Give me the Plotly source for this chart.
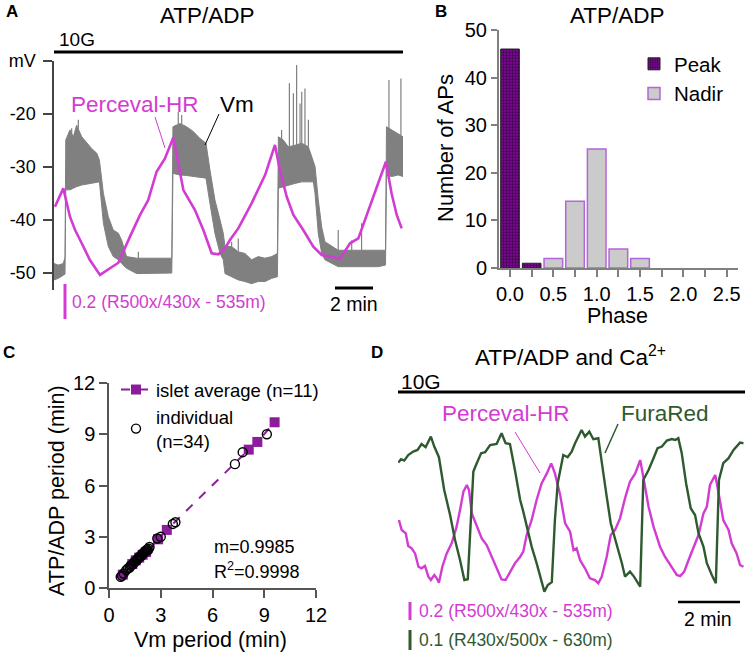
import numpy as np
import plotly.graph_objects as go

W, H = 747, 653
FONT = "Liberation Sans, Arial, sans-serif"
MAG = "#d23cd2"
GREEN = "#2f5a30"
GRAY = "#808080"
PURPLE = "#8c1c9c"

# ---------------- Panel A: Vm (mV) envelope and Perceval-HR ratio ----------------
vm_t = [0.00, 0.23, 0.49, 0.58, 0.62, 0.84, 1.02, 1.19, 1.46, 1.72, 1.98, 2.25, 2.39, 2.60, 2.86,
        3.12, 3.39, 3.56, 3.82, 4.35, 5.05, 5.75, 6.20, 6.26, 6.63, 6.98, 7.33, 7.68, 8.00, 8.21,
        8.47, 8.74, 8.91, 9.00, 9.35, 9.70, 10.05, 10.40, 10.75, 11.11, 11.46, 11.76, 11.81, 12.07,
        12.33, 12.68, 13.04, 13.39, 13.65, 13.74, 13.91, 14.09, 14.26, 14.96, 15.67, 16.37, 17.07,
        17.45, 17.50, 17.77, 18.12, 18.37]
vm_upper = [-48.2, -48.5, -48.2, -47.0, -24.9, -23.0, -24.3, -22.1, -24.3, -25.5, -26.5, -27.4, -28.7,
            -35.0, -39.4, -41.9, -42.5, -43.8, -46.9, -47.2, -47.2, -47.2, -47.2, -22.4, -21.8, -22.4,
            -23.3, -24.6, -25.5, -30.6, -36.2, -40.0, -42.5, -45.0, -45.0, -46.0, -46.3, -47.5, -46.9,
            -47.2, -46.9, -46.3, -24.3, -24.9, -26.2, -25.9, -25.5, -26.2, -29.3, -29.9, -36.2, -41.3,
            -44.1, -45.7, -45.7, -45.7, -45.7, -45.7, -22.4, -23.0, -23.7, -24.3]
vm_lower = [-51.3, -51.0, -50.4, -50.2, -34.3, -34.3, -34.0, -33.7, -33.4, -33.2, -33.0, -32.8, -32.8,
            -40.6, -45.0, -46.9, -47.5, -48.2, -49.1, -50.1, -50.1, -50.1, -50.0, -31.2, -31.5, -31.6,
            -31.8, -32.0, -32.1, -36.9, -42.5, -46.3, -47.5, -50.1, -50.7, -51.3, -51.6, -52.0, -51.6,
            -51.6, -51.0, -50.7, -34.0, -33.7, -33.4, -33.1, -32.8, -32.8, -32.8, -35.0, -42.5, -46.3,
            -47.5, -48.8, -48.8, -48.8, -48.8, -48.5, -31.5, -31.8, -31.5, -31.8]
spike_t = [0.93, 1.28, 4.44, 6.54, 6.72, 9.35, 9.70, 11.98, 12.39, 12.60, 12.77, 12.95, 13.04,
           13.21, 13.39, 14.96, 15.67, 16.19, 17.63, 18.26]
spike_peak = [-22.7, -21.1, -46.0, -19.6, -20.2, -44.1, -43.5, -23.0, -14.2, -16.1, -10.75, -18.0,
              -15.8, -15.2, -21.1, -41.9, -43.8, -40.6, -13.6, -13.3]
percA_t = [0.05, 0.49, 0.84, 1.11, 1.46, 1.89, 2.42, 3.39, 4.00, 4.53, 4.96, 5.40, 5.84, 6.28, 6.81,
           7.42, 7.86, 8.30, 8.65, 9.00, 9.26, 9.70, 10.40, 11.11, 11.63, 11.89, 12.25, 12.60, 13.12,
           13.65, 14.09, 14.61, 15.05, 15.32, 15.58, 16.02, 16.37, 16.72, 17.07, 17.47, 17.77, 18.04,
           18.30]
percA_v = [1.476, 1.581, 1.419, 1.343, 1.267, 1.171, 1.086, 1.156, 1.305, 1.429, 1.514, 1.676, 1.752,
           1.872, 1.571, 1.457, 1.343, 1.210, 1.204, 1.238, 1.286, 1.352, 1.495, 1.657, 1.829, 1.686,
           1.533, 1.429, 1.343, 1.248, 1.200, 1.190, 1.177, 1.219, 1.267, 1.295, 1.400, 1.514, 1.619,
           1.733, 1.552, 1.429, 1.352]
mv_ticks = [-10, -20, -30, -40, -50]
mv_ticktext = ["mV", "-20", "-30", "-40", "-50"]

# ---------------- Panel B: phase histogram ----------------
phase_peak = [0.0, 0.25]
count_peak = [46, 1]
phase_nadir = [0.5, 0.75, 1.0, 1.25, 1.5]
count_nadir = [2, 14, 25, 4, 2]

# ---------------- Panel C: periods ----------------
avg_vm = [0.80, 1.35, 1.55, 1.75, 1.95, 2.15, 2.85, 3.35, 8.10, 8.60, 9.60]
avg_atp = [0.78, 1.40, 1.62, 1.78, 1.95, 2.10, 2.85, 3.40, 8.10, 8.55, 9.70]
ind_vm = [0.68, 0.75, 0.85, 1.00, 1.10, 1.20, 1.30, 1.40, 1.45, 1.50, 1.60, 1.65, 1.70, 1.75, 1.80,
          1.85, 1.90, 1.95, 2.00, 2.05, 2.10, 2.15, 2.20, 2.30, 2.35, 2.80, 3.00, 3.70, 3.85, 7.30,
          7.75, 9.15, 1.25, 2.25]
ind_atp = [0.65, 0.72, 0.85, 1.05, 1.15, 1.20, 1.35, 1.40, 1.50, 1.55, 1.60, 1.70, 1.75, 1.80, 1.85,
           1.90, 1.90, 2.00, 2.05, 2.10, 2.15, 2.20, 2.25, 2.30, 2.40, 2.90, 3.00, 3.75, 3.85, 7.25,
           7.95, 9.00, 1.30, 2.20]
c_ticks = [0, 3, 6, 9, 12]

# ---------------- Panel D: Perceval-HR and FuraRed ----------------
perD_t = [0.03, 0.12, 0.25, 0.33, 0.44, 0.55, 0.66, 0.76, 0.87, 0.98,
          1.06, 1.17, 1.25, 1.32, 1.43, 1.57, 1.73, 1.89, 2.00, 2.11,
          2.22, 2.29, 2.38, 2.54, 2.70, 2.86, 3.02, 3.18, 3.34, 3.47,
          3.61, 3.77, 3.94, 4.04, 4.15, 4.31, 4.47, 4.63, 4.80, 4.94,
          5.06, 5.23, 5.39, 5.55, 5.66, 5.76, 5.87, 6.03, 6.19, 6.35,
          6.46, 6.57, 6.73, 6.86, 7.00, 7.16, 7.32, 7.48, 7.65, 7.81,
          7.91, 8.08, 8.24, 8.45, 8.61, 8.77, 8.99, 9.10, 9.23, 9.37,
          9.53, 9.69, 9.85, 9.96, 10.06, 10.23, 10.33, 10.49, 10.66, 10.76,
          10.92, 11.03, 11.14]
perD_v = [1.704, 1.593, 1.556, 1.415, 1.389, 1.333, 1.185, 1.167, 1.193, 1.074,
          1.037, 1.093, 1.056, 1.007, 1.185, 1.333, 1.444, 1.630, 1.815, 2.019,
          2.093, 2.037, 1.778, 1.630, 1.500, 1.426, 1.296, 1.185, 1.044, 1.037,
          1.130, 1.222, 1.296, 1.352, 1.537, 1.704, 1.926, 2.111, 2.222, 2.333,
          2.222, 1.981, 1.667, 1.574, 1.370, 1.389, 1.259, 1.167, 1.056, 1.037,
          1.000, 1.074, 1.296, 1.537, 1.593, 1.722, 1.944, 2.130, 2.222, 2.370,
          2.185, 1.852, 1.630, 1.407, 1.296, 1.204, 1.093, 1.081, 1.130, 1.259,
          1.389, 1.537, 1.778, 1.852, 2.093, 2.204, 2.019, 1.704, 1.593, 1.444,
          1.333, 1.204, 1.185]
furaD_t = [0.01, 0.10, 0.20, 0.33, 0.49, 0.63, 0.76, 0.89, 1.06, 1.17,
           1.32, 1.49, 1.68, 1.84, 2.00, 2.14, 2.25, 2.43, 2.54, 2.68,
           2.81, 2.97, 3.18, 3.34, 3.47, 3.61, 3.77, 3.94, 4.04, 4.18,
           4.31, 4.47, 4.63, 4.72, 4.83, 4.96, 5.06, 5.15, 5.33, 5.47,
           5.60, 5.71, 5.92, 6.03, 6.17, 6.30, 6.46, 6.62, 6.73, 6.86,
           7.05, 7.22, 7.32, 7.48, 7.61, 7.81, 7.91, 8.08, 8.24, 8.37,
           8.51, 8.67, 8.83, 8.94, 9.04, 9.15, 9.29, 9.44, 9.58, 9.69,
           9.85, 9.96, 10.12, 10.25, 10.35, 10.49, 10.66, 10.82, 11.03, 11.14]
furaD_v = [1.170, 1.187, 1.180, 1.208, 1.225, 1.233, 1.263, 1.247, 1.300, 1.250,
           1.197, 1.033, 0.908, 0.783, 0.683, 0.583, 0.587, 1.125, 1.167, 1.217,
           1.222, 1.258, 1.263, 1.317, 1.267, 1.263, 1.133, 0.983, 0.925, 0.833,
           0.750, 0.667, 0.567, 0.525, 0.558, 0.572, 0.883, 1.067, 1.208, 1.197,
           1.225, 1.267, 1.333, 1.300, 1.325, 1.287, 1.292, 1.133, 1.000, 0.867,
           0.767, 0.667, 0.600, 0.625, 0.600, 0.550, 1.083, 1.133, 1.192, 1.242,
           1.250, 1.280, 1.288, 1.283, 1.292, 1.217, 1.067, 0.942, 0.908, 0.817,
           0.750, 0.667, 0.608, 0.567, 1.083, 1.167, 1.192, 1.233, 1.270, 1.267]

# ---------------- layout geometry (pixels) ----------------
A_XPX, A_YPX = (54, 403), (61, 290)
A_TR, A_VR, A_PR = (0, 18.37), (-53.2, -10), (1.0, 2.309)
B_XPX, B_YPX = (499, 738), (30, 268)
C_XPX, C_YPX = (109, 316), (383, 588)
D_XPX, D_YPX = (398, 745), (395, 653)
D_TR, D_PR, D_FR = (0, 11.19), (0.226, 3.093), (0.218, 1.508)


def dom_x(px):
    return [px[0] / W, px[1] / W]


def dom_y(py):
    return [1 - py[1] / H, 1 - py[0] / H]


def P(px, py):
    return px / W, 1 - py / H


fig = go.Figure()
nolegend = dict(showlegend=False, hoverinfo="skip")

# Panel A traces
fig.add_trace(go.Scatter(x=vm_t, y=vm_lower, mode="lines", line=dict(color=GRAY, width=1),
                         xaxis="x", yaxis="y", **nolegend))
fig.add_trace(go.Scatter(x=vm_t, y=vm_upper, mode="lines", line=dict(color=GRAY, width=1),
                         fill="tonexty", fillcolor=GRAY, xaxis="x", yaxis="y", **nolegend))
base = np.interp(spike_t, vm_t, vm_upper)
sx, sy = [], []
for t, b, p in zip(spike_t, base, spike_peak):
    sx += [t, t, None]
    sy += [b, p, None]
fig.add_trace(go.Scatter(x=sx, y=sy, mode="lines", line=dict(color=GRAY, width=1.2),
                         xaxis="x", yaxis="y", **nolegend))
fig.add_trace(go.Scatter(x=percA_t, y=percA_v, mode="lines", line=dict(color=MAG, width=2.6),
                         xaxis="x", yaxis="y2", **nolegend))

# Panel B traces
fig.add_trace(go.Bar(x=phase_peak, y=count_peak, width=0.215, name="Peak",
                     marker=dict(color="#7d0a96", line=dict(color="#222222", width=1),
                                 pattern=dict(shape=".", fgcolor="#000000", size=3, solidity=0.45,
                                              fillmode="overlay")),
                     xaxis="x3", yaxis="y3", legend="legend", hoverinfo="skip"))
fig.add_trace(go.Bar(x=phase_nadir, y=count_nadir, width=0.215, name="Nadir",
                     marker=dict(color="#cbcbcb", line=dict(color="#b366d9", width=1.5)),
                     xaxis="x3", yaxis="y3", legend="legend", hoverinfo="skip"))

# Panel C traces
order = np.argsort(avg_vm)
fig.add_trace(go.Scatter(x=[avg_vm[i] for i in order], y=[avg_atp[i] for i in order],
                         mode="lines+markers", name="islet average (n=11)",
                         line=dict(color=PURPLE, width=2, dash="dash"),
                         marker=dict(symbol="square", size=10, color=PURPLE),
                         xaxis="x4", yaxis="y4", legend="legend2", hoverinfo="skip"))
fig.add_trace(go.Scatter(x=ind_vm, y=ind_atp, mode="markers", name="individual<br>(n=34)",
                         marker=dict(symbol="circle-open", size=9, color="black",
                                     line=dict(width=1.4, color="black")),
                         xaxis="x4", yaxis="y4", legend="legend2", hoverinfo="skip"))

# Panel D traces
fig.add_trace(go.Scatter(x=perD_t, y=perD_v, mode="lines", line=dict(color=MAG, width=2.4),
                         xaxis="x5", yaxis="y5", **nolegend))
fig.add_trace(go.Scatter(x=furaD_t, y=furaD_v, mode="lines", line=dict(color=GREEN, width=2.4),
                         xaxis="x5", yaxis="y6", **nolegend))

hidden = dict(visible=False, showgrid=False, zeroline=False)
axline = dict(showline=True, showgrid=False, zeroline=False, ticks="outside")

fig.update_layout(
    width=W, height=H, margin=dict(l=0, r=0, t=0, b=0, pad=0, autoexpand=False),
    paper_bgcolor="white", plot_bgcolor="white",
    font=dict(family=FONT, color="black"),
    barmode="overlay",
    xaxis=dict(domain=dom_x(A_XPX), range=list(A_TR), anchor="y", **hidden),
    yaxis=dict(domain=dom_y(A_YPX), range=list(A_VR), anchor="x", tickvals=mv_ticks,
               ticktext=mv_ticktext, linecolor="#444444", linewidth=1.5, tickcolor="#444444",
               ticklen=9, tickwidth=1.5, ticklabelstandoff=4, tickfont=dict(size=18), **axline),
    yaxis2=dict(domain=dom_y(A_YPX), range=list(A_PR), overlaying="y", anchor="x", **hidden),
    xaxis3=dict(domain=dom_x(B_XPX), range=[-0.127, 2.63], anchor="y3", tick0=0, dtick=0.5,
                tickformat=".1f", linecolor="#808080", linewidth=2, tickcolor="#808080",
                ticklen=7, tickwidth=1.5, tickfont=dict(size=20),
                minor=dict(tick0=0, dtick=0.25, ticks="outside", ticklen=7, tickwidth=1.5,
                           tickcolor="#808080", showgrid=False), **axline),
    yaxis3=dict(domain=dom_y(B_YPX), range=[0, 50], anchor="x3", tickvals=[0, 10, 20, 30, 40, 50],
                linecolor="#808080", linewidth=2, tickcolor="#808080", ticklen=6, tickwidth=1.5,
                tickfont=dict(size=20), **axline),
    xaxis4=dict(domain=dom_x(C_XPX), range=[0, 12], anchor="y4", tickvals=c_ticks,
                linecolor="#555555", linewidth=1.5, tickcolor="#555555", ticklen=8, tickwidth=1.5,
                tickfont=dict(size=20), **axline),
    yaxis4=dict(domain=dom_y(C_YPX), range=[0, 12], anchor="x4", tickvals=c_ticks,
                linecolor="#555555", linewidth=1.5, tickcolor="#555555", ticklen=8, tickwidth=1.5,
                tickfont=dict(size=20), **axline),
    xaxis5=dict(domain=dom_x(D_XPX), range=list(D_TR), anchor="y5", **hidden),
    yaxis5=dict(domain=dom_y(D_YPX), range=list(D_PR), anchor="x5", **hidden),
    yaxis6=dict(domain=dom_y(D_YPX), range=list(D_FR), overlaying="y5", anchor="x5", **hidden),
    legend=dict(x=634 / W, y=1 - 44 / H, xanchor="left", yanchor="top", font=dict(size=20.5),
                bgcolor="rgba(0,0,0,0)", tracegroupgap=0, traceorder="normal"),
    legend2=dict(x=116 / W, y=1 - 371 / H, xanchor="left", yanchor="top", font=dict(size=18.5),
                 bgcolor="rgba(0,0,0,0)", tracegroupgap=0, traceorder="normal"),
)

ann = []


def text(t, px, py, size, color="black", xanchor="center", angle=0, bold=False):
    x, y = P(px, py)
    if bold:
        t = "<b>" + t + "</b>"
    ann.append(dict(text=t, x=x, y=y, xref="paper", yref="paper", xanchor=xanchor,
                    yanchor="middle", showarrow=False, textangle=angle,
                    font=dict(size=size, color=color, family=FONT)))


# panel letters and titles
text("A", 12, 12, 17, bold=True)
text("B", 441, 12, 17, bold=True)
text("C", 9, 352, 17, bold=True)
text("D", 377, 352, 17, bold=True)
text("ATP/ADP", 207, 15, 22.5)
text("ATP/ADP", 617, 15, 22.5)
text("ATP/ADP and Ca<sup>2+</sup>", 570, 356, 22.5)
# panel A labels
text("10G", 57, 40, 19, xanchor="left")
text("Perceval-HR", 135, 104, 22.5, color=MAG)
text("Vm", 237, 104, 22.5)
text("0.2 (R500x/430x - 535m)", 70, 302, 17.5, color=MAG, xanchor="left")
text("2 min", 354, 304, 19.5)
# panel B titles
text("Number of APs", 445, 148, 22, angle=-90)
text("Phase", 617, 316, 21.5)
# panel C
text("ATP/ADP period (min)", 57, 491, 21.5, angle=-90)
text("Vm period (min)", 210, 640, 21.5)
text("m=0.9985", 212, 547, 18, xanchor="left")
text("R<sup>2</sup>=0.9998", 212, 570, 18, xanchor="left")
# panel D
text("10G", 399, 381, 21, xanchor="left")
text("Perceval-HR", 506, 413, 22.5, color=MAG)
text("FuraRed", 665, 413, 22.5, color=GREEN)
text("0.2 (R500x/430x - 535m)", 417, 611, 17.5, color=MAG, xanchor="left")
text("0.1 (R430x/500x - 630m)", 417, 640, 17.5, color=GREEN, xanchor="left")
text("2 min", 708, 619, 19.5)

shapes = []


def seg(p0, p1, color, width):
    x0, y0 = P(*p0)
    x1, y1 = P(*p1)
    shapes.append(dict(type="line", xref="paper", yref="paper", x0=x0, y0=y0, x1=x1, y1=y1,
                       line=dict(color=color, width=width)))


# 10G bars
seg((A_XPX[0], 52), (A_XPX[1], 52), "black", 3)
seg((D_XPX[0], 392), (D_XPX[1], 392), "black", 3)
# leader lines
seg((155, 117), (165, 148), MAG, 1)
seg((219, 114), (205, 145), "black", 1)
seg((515, 432), (540, 473), MAG, 1)
seg((618, 424), (605, 453), GREEN, 1.5)

# Panel A scale bars (sizes from the axis scales)
a_px_per_min = (A_XPX[1] - A_XPX[0]) / (A_TR[1] - A_TR[0])
a_px_per_ratio = (A_YPX[1] - A_YPX[0]) / (A_PR[1] - A_PR[0])
seg((65, 319), (65, 319 - 0.2 * a_px_per_ratio), MAG, 3)
seg((335, 288), (335 + 2 * a_px_per_min, 288), "black", 3)

# Panel D scale bars in data coordinates
shapes.append(dict(type="line", xref="x5", yref="y5", x0=0.387, x1=0.387, y0=0.593, y1=0.793,
                   line=dict(color=MAG, width=3)))
shapes.append(dict(type="line", xref="x5", yref="y6", x0=0.387, x1=0.387, y0=0.233, y1=0.333,
                   line=dict(color=GREEN, width=3)))
shapes.append(dict(type="line", xref="x5", yref="y5", x0=9.03, x1=11.03, y0=0.793, y1=0.793,
                   line=dict(color="black", width=2.5)))

fig.update_layout(annotations=ann, shapes=shapes)
fig.write_html(
    "out.html",
    config={"displayModeBar": False},
    post_script="document.body.style.margin='0px';"
                "document.documentElement.style.overflow='hidden';",
)
